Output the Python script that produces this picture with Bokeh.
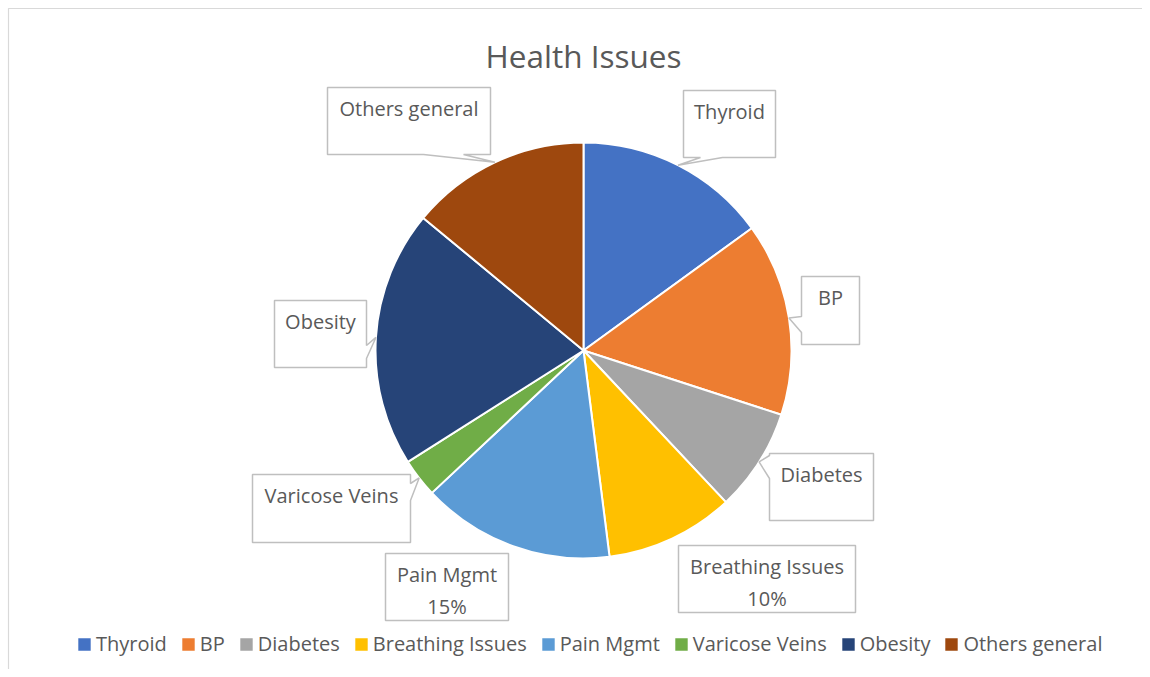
import math
from bokeh.plotting import figure
from bokeh.models import Range1d, ColumnDataSource
from bokeh.core.properties import value
from bokeh.embed import file_html
from bokeh.resources import INLINE

# ---------------- data ----------------
title_text = "Health Issues"
categories = ["Thyroid", "BP", "Diabetes", "Breathing Issues", "Pain Mgmt",
              "Varicose Veins", "Obesity", "Others general"]
shares = [15, 15, 8, 10, 15, 3, 20, 14]
colors = ["#4472C4", "#ED7D31", "#A5A5A5", "#FFC000", "#5B9BD5",
          "#70AD47", "#264478", "#9E480E"]
show_pct = [False, False, False, True, True, False, False, False]

# ---------------- layout (pixels, origin top-left of picture) ----------------
W, H = 1142, 669
def Y(py):
    return H - py

CX, CY, R = 583, 350, 208
FONT = "Open Sans"
TXT = "#595959"

# callout boxes: (left, top, right, bottom), tail side, tail base (a1, a2)
boxes = {
    "Thyroid":          ((683, 90, 775, 157), "bottom", (700, 722)),
    "BP":               ((801, 276, 859, 344), "left", (316, 332)),
    "Diabetes":         ((769, 453, 873, 520), "left", (455, 478)),
    "Breathing Issues": ((678, 545, 855, 612), None, None),
    "Pain Mgmt":        ((385, 553, 508, 620), None, None),
    "Varicose Veins":   ((252, 474, 410, 542), "right", (483, 500)),
    "Obesity":          ((274, 300, 366, 367), "right", (345, 358)),
    "Others general":   ((327, 87, 490, 154), "bottom", (423, 463)),
}

p = figure(width=W, height=H, x_range=Range1d(0, W), y_range=Range1d(0, H),
           output_backend="svg", toolbar_location=None, min_border=0,
           x_axis_location=None, y_axis_location=None)
p.grid.visible = False
p.outline_line_color = None

# chart area border (left and top edges visible in the picture)
p.line(x=[8, 8, W], y=[Y(H), Y(8), Y(8)], line_color="#D9D9D9", line_width=1.2)

total = float(sum(shares))
starts, ends, mids = [], [], []
c = 0.0
for s in shares:
    f0, f1 = c / total, (c + s) / total
    starts.append(math.pi / 2 - 2 * math.pi * f0)
    ends.append(math.pi / 2 - 2 * math.pi * f1)
    mids.append(2 * math.pi * (f0 + f1) / 2)  # clockwise from top
    c += s

src = ColumnDataSource(dict(name=categories, start=starts, end=ends, color=colors))
p.wedge(x=CX, y=Y(CY), radius=R, start_angle="start", end_angle="end",
        direction="clock", fill_color="color", line_color="white", line_width=2,
        legend_field="name", source=src)

# callouts
xs, ys = [], []
tx, ty, tt = [], [], []
for name, share, pct, mid in zip(categories, shares, show_pct, mids):
    (l, t, r, b), side, base = boxes[name]
    tip = (CX + R * math.sin(mid), CY - R * math.cos(mid))
    if side == "bottom":
        pts = [(l, t), (r, t), (r, b), (base[1], b), tip, (base[0], b), (l, b)]
    elif side == "left":
        pts = [(l, t), (r, t), (r, b), (l, b), (l, base[1]), tip, (l, base[0])]
    elif side == "right":
        pts = [(l, t), (r, t), (r, base[0]), tip, (r, base[1]), (r, b), (l, b)]
    else:
        pts = [(l, t), (r, t), (r, b), (l, b)]
    xs.append([q[0] for q in pts])
    ys.append([Y(q[1]) for q in pts])
    cxb = (l + r) / 2
    tx.append(cxb); ty.append(Y(t + 21)); tt.append(name)
    if pct:
        tx.append(cxb); ty.append(Y(t + 53))
        tt.append("%d%%" % round(100 * share / total))

p.patches(xs, ys, fill_color="white", line_color="#BFBFBF", line_width=1.5)
p.text(x=tx, y=ty, text=tt, text_align="center", text_baseline="middle",
       text_font=value(FONT), text_font_size="20px", text_color=TXT)

# title
p.text(x=[CX], y=[Y(55)], text=[title_text], text_align="center",
       text_baseline="middle", text_font=value(FONT), text_font_size="31.5px",
       text_color=TXT)

lg = p.legend[0]
lg.orientation = "horizontal"
lg.location = (75, 12)
lg.label_text_font = FONT
lg.label_text_font_size = "20px"
lg.label_text_color = TXT
lg.glyph_width = 18
lg.glyph_height = 18
lg.label_standoff = 3
lg.spacing = 12
lg.padding = 0
lg.margin = 0
lg.border_line_color = None
lg.background_fill_alpha = 0

open("out.html", "w").write(file_html(p, INLINE))
